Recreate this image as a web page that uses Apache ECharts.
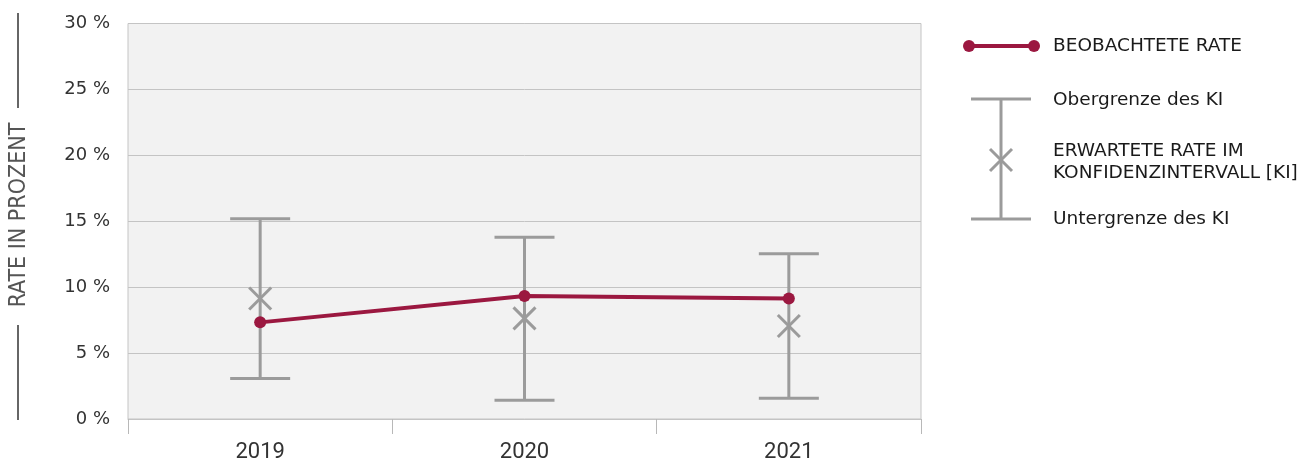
<!DOCTYPE html>
<html><head><meta charset="utf-8">
<script src="https://cdn.jsdelivr.net/npm/echarts@6/dist/echarts.min.js"></script>
<style>html,body{margin:0;padding:0;background:#fff}#c{width:1311px;height:463px}</style>
</head><body><div id="c"></div>
<script>
const categories = ['2019', '2020', '2021'];
const observed = [7.33, 9.33, 9.14];
const expected = [9.14, 7.63, 7.05];
const upperCI = [15.19, 13.78, 12.54];
const lowerCI = [3.08, 1.42, 1.57];
const yTicks = [0, 5, 10, 15, 20, 25, 30];

const RED = '#9b1840';
const GRAY = '#9b9b9b';
const chart = echarts.init(document.getElementById('c'));

const ciData = categories.map((c, i) => [i, lowerCI[i], upperCI[i], expected[i]]);
const legTxt = (x, y, t, extra) => Object.assign({ type: 'text', x: x, y: y, style: Object.assign({ text: t, fill: '#1a1a1a', fontFamily: 'DejaVu Sans', fontSize: 18.5, verticalAlign: 'middle' }, extra || {}) });

chart.setOption({
  animation: false,
  grid: { left: 128, right: 390, top: 23.5, bottom: 42.5, show: true, backgroundColor: '#f2f2f2', borderColor: '#c4c4c4', borderWidth: 1 },
  xAxis: {
    type: 'category', data: categories, boundaryGap: true,
    axisLine: { show: true, lineStyle: { color: '#c4c4c4', width: 1 } },
    axisTick: { show: true, length: 15, interval: 0, lineStyle: { color: '#b8b8b8', width: 1 } },
    axisLabel: { color: '#333', fontSize: 22, margin: 22, fontFamily: 'Roboto' }
  },
  yAxis: {
    type: 'value', min: yTicks[0], max: yTicks[yTicks.length - 1], interval: 5,
    axisLine: { show: false }, axisTick: { show: false },
    splitLine: { lineStyle: { color: '#c4c4c4', width: 1 } },
    axisLabel: { formatter: '{value} %', color: '#333', fontSize: 18, margin: 18, fontFamily: 'DejaVu Sans' }
  },
  series: [
    {
      type: 'custom', name: 'KI', data: ciData, z: 2,
      renderItem: function (params, api) {
        const x = api.value(0);
        const lo = api.coord([x, api.value(1)]);
        const hi = api.coord([x, api.value(2)]);
        const ex = api.coord([x, api.value(3)]);
        const hw = 30, xs = 11;
        const st = { stroke: GRAY, lineWidth: 3 };
        return {
          type: 'group', children: [
            { type: 'line', shape: { x1: lo[0], y1: lo[1], x2: hi[0], y2: hi[1] }, style: st },
            { type: 'line', shape: { x1: hi[0] - hw, y1: hi[1], x2: hi[0] + hw, y2: hi[1] }, style: st },
            { type: 'line', shape: { x1: lo[0] - hw, y1: lo[1], x2: lo[0] + hw, y2: lo[1] }, style: st },
            { type: 'line', shape: { x1: ex[0] - xs, y1: ex[1] - xs, x2: ex[0] + xs, y2: ex[1] + xs }, style: st },
            { type: 'line', shape: { x1: ex[0] - xs, y1: ex[1] + xs, x2: ex[0] + xs, y2: ex[1] - xs }, style: st }
          ]
        };
      }
    },
    {
      type: 'line', name: 'BEOBACHTETE RATE', data: observed, z: 3,
      symbol: 'circle', symbolSize: 12, showSymbol: true,
      lineStyle: { color: RED, width: 4 }, itemStyle: { color: RED }
    }
  ],
  graphic: [
    { type: 'line', shape: { x1: 18, y1: 13, x2: 18, y2: 108 }, style: { stroke: '#666', lineWidth: 2 } },
    { type: 'line', shape: { x1: 18, y1: 325, x2: 18, y2: 420 }, style: { stroke: '#666', lineWidth: 2 } },
    { type: 'text', x: 19, y: 215, rotation: Math.PI / 2, style: { text: 'RATE IN PROZENT', fill: '#555', fontFamily: 'DejaVu Sans Condensed', fontSize: 23, align: 'center', verticalAlign: 'middle' } },
    // legend: observed
    { type: 'line', shape: { x1: 969, y1: 46, x2: 1034, y2: 46 }, style: { stroke: RED, lineWidth: 4 } },
    { type: 'circle', shape: { cx: 969, cy: 46, r: 6 }, style: { fill: RED } },
    { type: 'circle', shape: { cx: 1034, cy: 46, r: 6 }, style: { fill: RED } },
    legTxt(1053, 46, 'BEOBACHTETE RATE'),
    // legend: CI
    { type: 'line', shape: { x1: 1001, y1: 99, x2: 1001, y2: 219 }, style: { stroke: GRAY, lineWidth: 3 } },
    { type: 'line', shape: { x1: 971, y1: 99, x2: 1031, y2: 99 }, style: { stroke: GRAY, lineWidth: 3 } },
    { type: 'line', shape: { x1: 971, y1: 219, x2: 1031, y2: 219 }, style: { stroke: GRAY, lineWidth: 3 } },
    { type: 'line', shape: { x1: 990, y1: 149, x2: 1012, y2: 171 }, style: { stroke: GRAY, lineWidth: 3 } },
    { type: 'line', shape: { x1: 990, y1: 171, x2: 1012, y2: 149 }, style: { stroke: GRAY, lineWidth: 3 } },
    legTxt(1053, 100, 'Obergrenze des KI'),
    legTxt(1053, 162, 'ERWARTETE RATE IM\nKONFIDENZINTERVALL [KI]', { lineHeight: 22 }),
    legTxt(1053, 219, 'Untergrenze des KI')
  ]
});
</script></body></html>
